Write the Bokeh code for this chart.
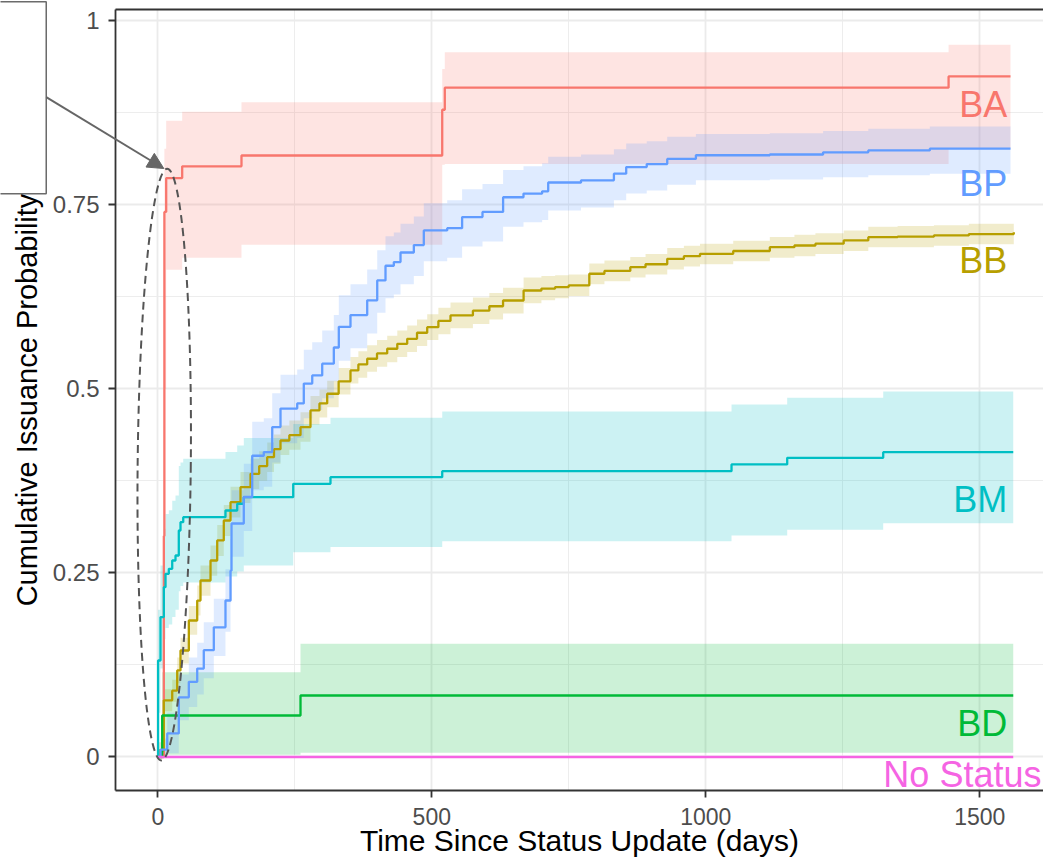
from bokeh.plotting import figure
from bokeh.models import (Range1d, FixedTicker, NumeralTickFormatter, LinearAxis,
                          Arrow, NormalHead)
from bokeh.core.properties import value
from bokeh.embed import file_html
from bokeh.resources import INLINE

FONT = "Liberation Sans"

# Kaplan-Meier style cumulative issuance curves: step times (days),
# estimate, and lower / upper band of the confidence interval.
ba_t = [0, 11, 12, 15.3, 44.5, 152.7, 519, 523.7, 1443, 1556]
ba_p = [0, 0.30, 0.74, 0.786, 0.802, 0.8167, 0.8788, 0.9087, 0.924, 0.924]
ba_lo = [0, 0.18, 0.50, 0.6615, 0.678, 0.6955, 0.804, 0.805, 0.826, 0.826]
ba_hi = [0, 0.45, 0.826, 0.864, 0.876, 0.889, 0.934, 0.957, 0.967, 0.967]

bp_t = [0, 5, 17.2, 38.3, 56.6, 71.9, 83.9, 102.2, 123.5, 132.7,
        134.5, 156.9, 172.3, 193.4, 208.8, 223.9, 254.4, 266.4, 281.8, 300,
        321.2, 330.3, 351.6, 382.1, 400.4, 415.5, 430.7, 442.9, 467.2, 485.4,
        528.1, 555.3, 592.5, 630.1, 667.3, 701.3, 712.4, 772.3, 832.3, 854.7,
        892.2, 929.6, 981.9, 1116.8, 1214, 1296.5, 1408.8, 1556]
bp_p = [0, 0.01, 0.032, 0.081, 0.102, 0.12, 0.145, 0.176, 0.2125, 0.253,
        0.317, 0.353, 0.409, 0.414, 0.448, 0.473, 0.48, 0.507, 0.518, 0.534,
        0.556, 0.584, 0.60, 0.62, 0.647, 0.667, 0.672, 0.685, 0.695, 0.715,
        0.718, 0.733, 0.74, 0.76, 0.765, 0.768, 0.78, 0.783, 0.792, 0.801,
        0.805, 0.812, 0.817, 0.818, 0.821, 0.8235, 0.826, 0.826]
bp_lo = [0, 0, 0.005, 0.05, 0.068, 0.085, 0.107, 0.137, 0.17, 0.21,
         0.272, 0.307, 0.362, 0.367, 0.40, 0.426, 0.433, 0.46, 0.471, 0.487,
         0.51, 0.538, 0.555, 0.575, 0.603, 0.623, 0.628, 0.642, 0.653, 0.673,
         0.678, 0.693, 0.70, 0.72, 0.726, 0.729, 0.742, 0.746, 0.756, 0.765,
         0.769, 0.777, 0.783, 0.784, 0.787, 0.79, 0.792, 0.792]
bp_hi = [0, 0.025, 0.06, 0.112, 0.135, 0.155, 0.183, 0.215, 0.255, 0.296,
         0.362, 0.398, 0.455, 0.46, 0.494, 0.519, 0.526, 0.553, 0.563, 0.579,
         0.6, 0.627, 0.642, 0.662, 0.688, 0.707, 0.712, 0.724, 0.734, 0.752,
         0.756, 0.771, 0.778, 0.797, 0.802, 0.806, 0.815, 0.818, 0.825, 0.833,
         0.836, 0.842, 0.846, 0.847, 0.85, 0.853, 0.856, 0.856]

bb_t = [0, 1.8, 10.9, 26.3, 35.4, 41.4, 56.6, 71.9, 77.9, 96.2,
        108.4, 120.4, 132.7, 150.9, 169.2, 185, 199.6, 212, 223.9, 240,
        260.4, 278.6, 295, 309.1, 330, 351.6, 366, 382.1, 400, 418.6,
        437, 455.1, 473, 491.6, 512, 534.1, 575, 605, 630, 667.5,
        700, 725, 749.8, 787.4, 815, 862.2, 890, 929.6, 960, 989.4,
        1050, 1116.8, 1161.7, 1200, 1251.6, 1296.5, 1350, 1416.2, 1480, 1562]
bb_p = [0, 0.009, 0.077, 0.09, 0.1175, 0.1446, 0.1853, 0.2124, 0.2396, 0.2668,
        0.294, 0.3211, 0.346, 0.3663, 0.3845, 0.395, 0.4071, 0.418, 0.4297, 0.437,
        0.4478, 0.4705, 0.48, 0.4932, 0.51, 0.5248, 0.533, 0.5407, 0.548, 0.5543,
        0.561, 0.5678, 0.576, 0.5836, 0.592, 0.5995, 0.606, 0.612, 0.6198, 0.6334,
        0.636, 0.638, 0.6402, 0.6561, 0.66, 0.665, 0.669, 0.6764, 0.68, 0.6832,
        0.687, 0.6922, 0.6945, 0.697, 0.7013, 0.7058, 0.7065, 0.7081, 0.71, 0.7126]
bb_lo = [0, 0, 0.062, 0.075, 0.1, 0.127, 0.166, 0.192, 0.219, 0.246,
         0.273, 0.30, 0.325, 0.345, 0.364, 0.375, 0.387, 0.398, 0.41, 0.417,
         0.428, 0.451, 0.461, 0.475, 0.492, 0.507, 0.515, 0.523, 0.53, 0.536,
         0.543, 0.55, 0.558, 0.566, 0.574, 0.582, 0.588, 0.594, 0.602, 0.616,
         0.62, 0.623, 0.626, 0.642, 0.646, 0.651, 0.655, 0.662, 0.666, 0.669,
         0.673, 0.678, 0.68, 0.683, 0.687, 0.692, 0.692, 0.694, 0.696, 0.699]
bb_hi = [0, 0.02, 0.092, 0.105, 0.135, 0.162, 0.205, 0.233, 0.26, 0.287,
         0.315, 0.342, 0.367, 0.387, 0.405, 0.415, 0.427, 0.438, 0.45, 0.457,
         0.468, 0.49, 0.499, 0.511, 0.528, 0.543, 0.551, 0.559, 0.566, 0.572,
         0.579, 0.586, 0.594, 0.601, 0.61, 0.617, 0.624, 0.63, 0.637, 0.651,
         0.653, 0.654, 0.655, 0.67, 0.674, 0.679, 0.683, 0.691, 0.694, 0.697,
         0.701, 0.706, 0.709, 0.711, 0.715, 0.72, 0.721, 0.722, 0.724, 0.726]

bm_t = [0, 0.5, 4.9, 11, 14.1, 20.1, 26.3, 32.3, 38.3, 41.4,
        46.4, 123.5, 144.9, 156.9, 247.1, 315.1, 519, 1046.9, 1148.5, 1323.7, 1561]
bm_p = [0, 0.131, 0.19, 0.2305, 0.2487, 0.2555, 0.2668, 0.2736, 0.3075, 0.3188,
        0.3256, 0.3347, 0.3438, 0.3528, 0.3709, 0.3799, 0.388, 0.3972, 0.4062, 0.4139, 0.4139]
bm_lo = [0, 0.06, 0.12, 0.16, 0.175, 0.18, 0.19, 0.2, 0.225, 0.232,
         0.237, 0.245, 0.252, 0.26, 0.278, 0.285, 0.293, 0.3007, 0.3085, 0.3175, 0.3175]
bm_hi = [0, 0.2, 0.26, 0.31, 0.33, 0.335, 0.348, 0.355, 0.395, 0.40,
         0.405, 0.414, 0.423, 0.433, 0.452, 0.4606, 0.469, 0.4786, 0.4877, 0.4963, 0.4963]

bd_t = [0, 8, 260.4, 1561]
bd_p = [0, 0.0563, 0.0835, 0.0835]
bd_lo = [0, 0.003, 0.0057, 0.0057]
bd_hi = [0, 0.115, 0.1537, 0.1537]

ns_t = [0, 1561]
ns_p = [0, 0]
ns_lo = [0, 0]
ns_hi = [0, 0]

status_names = ["BA", "BB", "BD", "BM", "BP", "No Status"]
status_colors = ["#F8766D", "#B79F00", "#00BA38", "#00BFC4", "#619CFF", "#F564E3"]
series = {
    "BA": (ba_t, ba_p, ba_lo, ba_hi),
    "BB": (bb_t, bb_p, bb_lo, bb_hi),
    "BD": (bd_t, bd_p, bd_lo, bd_hi),
    "BM": (bm_t, bm_p, bm_lo, bm_hi),
    "BP": (bp_t, bp_p, bp_lo, bp_hi),
    "No Status": (ns_t, ns_p, ns_lo, ns_hi),
}

x_ticks = [0, 500, 1000, 1500]
x_minor = [250, 750, 1250]
y_ticks = [0, 0.25, 0.5, 0.75, 1]
y_minor = [0.125, 0.375, 0.625, 0.875]

# end-of-curve text labels: (name, x, y, alignment)
end_labels = [
    ("BA", 1550, 0.8864, "right"),
    ("BP", 1550, 0.7787, "right"),
    ("BB", 1550, 0.6742, "right"),
    ("BM", 1550, 0.3501, "right"),
    ("BD", 1550, 0.0455, "right"),
    ("No Status", 1324, -0.0237, "left"),
]

# ---- page geometry -------------------------------------------------------
W, H = 1043, 864
FRAME_L, FRAME_T, FRAME_B = 115, 9, 790
X0, X1 = -77.2, 1616.2
Y0, Y1 = -0.0455, 1.0149

INK = "#333333"
GRID = "#EBEBEB"

p = figure(width=W, height=H, x_range=Range1d(X0, X1), y_range=Range1d(Y0, Y1),
           output_backend="svg", toolbar_location=None,
           min_border_left=FRAME_L, min_border_right=0,
           min_border_top=FRAME_T, min_border_bottom=H - FRAME_B,
           background_fill_color="white", border_fill_color="white",
           outline_line_color=None)

for ax in (p.xaxis[0], p.yaxis[0]):
    ax.axis_line_color = INK
    ax.axis_line_width = 1.8
    ax.major_tick_line_color = INK
    ax.major_tick_line_width = 1.8
    ax.major_tick_out = 7
    ax.major_tick_in = 0
    ax.minor_tick_line_color = None
    ax.major_label_text_font = FONT
    ax.major_label_text_color = "#4D4D4D"
    ax.axis_label_text_font = FONT
    ax.axis_label_text_font_style = "normal"
    ax.axis_label_text_color = "black"

p.xaxis.ticker = FixedTicker(ticks=x_ticks, minor_ticks=x_minor)
p.yaxis.ticker = FixedTicker(ticks=y_ticks, minor_ticks=y_minor)
p.yaxis.formatter = NumeralTickFormatter(format="0.[00]")
p.xaxis.axis_label = "Time Since Status Update (days)"
p.yaxis.axis_label = "Cumulative Issuance Probability"
p.xaxis.major_label_text_font_size = "23px"
p.yaxis.major_label_text_font_size = "24px"
p.xaxis.axis_label_text_font_size = "30px"
p.yaxis.axis_label_text_font_size = "29px"
p.xaxis.major_label_standoff = 10
p.xaxis.axis_label_standoff = -4
p.yaxis.major_label_standoff = 9
p.yaxis.axis_label_standoff = 7

# top edge of the panel box
top_axis = LinearAxis(axis_line_color=INK, axis_line_width=1.8,
                      major_tick_line_color=None, minor_tick_line_color=None,
                      major_label_text_font_size="0px",
                      ticker=FixedTicker(ticks=[]))
p.add_layout(top_axis, "above")

p.xgrid.ticker = FixedTicker(ticks=x_ticks, minor_ticks=x_minor)
p.ygrid.ticker = FixedTicker(ticks=y_ticks, minor_ticks=y_minor)
for g in (p.xgrid[0], p.ygrid[0]):
    g.grid_line_color = GRID
    g.grid_line_width = 1.8
    g.minor_grid_line_color = GRID
    g.minor_grid_line_width = 0.9

# confidence bands first, then the step curves on top
for name, color in zip(status_names, status_colors):
    t, est, lo, hi = series[name]
    p.varea_step(x=t, y1=lo, y2=hi, step_mode="after", fill_color=color, fill_alpha=0.2)
for name, color in zip(status_names, status_colors):
    t, est, lo, hi = series[name]
    p.step(x=t, y=est, mode="after", line_color=color, line_width=2.3)

color_of = dict(zip(status_names, status_colors))
for name, lx, ly, align in end_labels:
    p.text(x=[lx], y=[ly], text=[name], text_color=color_of[name],
           text_align=align, text_baseline="alphabetic",
           text_font=value(FONT), text_font_size="36px")

# dashed ellipse around the early jump
p.ellipse(x=[11.7], y=[0.397], width=97, height=0.804, angle=-0.01,
          fill_color=None, line_color="#555555", line_width=2, line_dash="8 5")

# ---- transparent overlay (whole page) for the callout box and its arrow ----
sx = (W - FRAME_L) / (X1 - X0)
sy = (FRAME_B - FRAME_T) / (Y1 - Y0)
ox0 = X0 - FRAME_L / sx
oy1 = Y1 + FRAME_T / sy
oy0 = Y0 - (H - FRAME_B) / sy

over = figure(width=W, height=H, x_range=Range1d(ox0, X1), y_range=Range1d(oy0, oy1),
              output_backend="svg", toolbar_location=None,
              x_axis_type=None, y_axis_type=None, min_border=0,
              min_border_left=0, min_border_right=0, min_border_top=0, min_border_bottom=0,
              outline_line_color=None, background_fill_alpha=0, border_fill_alpha=0,
              styles={"position": "absolute", "top": "0px", "left": "0px",
                      "pointer-events": "none"})

over.quad(left=[-400], right=[-203.6], top=[1.0255], bottom=[0.7647],
          fill_color=None, line_color="#6b6b6b", line_width=1.5)
over.add_layout(Arrow(end=NormalHead(size=16, fill_color="#666666", line_color="#666666"),
                      x_start=-203.6, y_start=0.896, x_end=11.0, y_end=0.799,
                      line_color="#666666", line_width=2))

open("out.html", "w").write(file_html([p, over], INLINE))
